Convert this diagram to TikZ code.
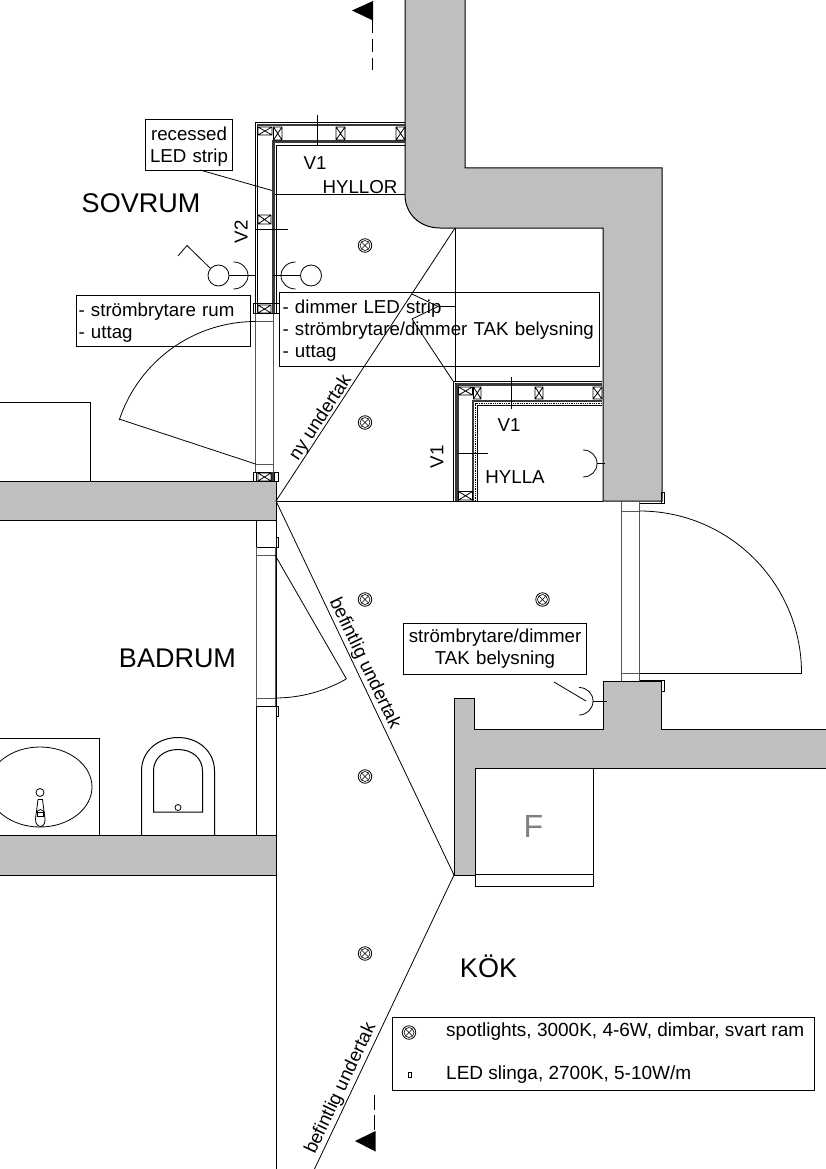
\documentclass[tikz,border=0pt]{standalone}
\usepackage{fontspec}
\setmainfont{Liberation Sans}
\definecolor{wallgray}{HTML}{BFBFBF}
\definecolor{thingray}{HTML}{555555}
\definecolor{bandgray}{HTML}{3A3A3A}
\newcommand{\xbox}[4]{\draw[lw] (#1,#2) rectangle (#3,#4) (#1,#2) -- (#3,#4) (#1,#4) -- (#3,#2);}
\newcommand{\lamp}[3]{\node[lampouter] (#1) at (#2,#3) {}; \draw[line width=.6pt] (#2,#3) circle[radius=5pt]; \draw[line width=.6pt] ($(#2,#3)+(-3.5,-3.5)$) -- ($(#2,#3)+(3.5,3.5)$) ($(#2,#3)+(-3.5,3.5)$) -- ($(#2,#3)+(3.5,-3.5)$);}
\usetikzlibrary{calc}
\tikzset{
  lw/.style={line width=.8pt,black},
  wall/.style={fill=wallgray,draw=black,line width=1pt},
  thin gray/.style={line width=.8pt,draw=thingray},
  band/.style={draw=bandgray},
  lampouter/.style={circle,draw=black,line width=.8pt,minimum size=13.5pt,inner sep=0pt},
  lbl/.style={font=\fontsize{18.7}{22}\selectfont,inner sep=0pt},
  room/.style={font=\fontsize{27}{30}\selectfont,inner sep=0pt},
  tbox/.style={draw=black,fill=white,line width=1pt,font=\fontsize{18.7}{22}\selectfont,inner ysep=2pt,anchor=north west,align=left},
  tboxc/.style={draw=black,fill=white,line width=1pt,font=\fontsize{18.7}{22}\selectfont,inner ysep=2pt,inner xsep=3pt,anchor=north west,align=center},
  oline/.style={line width=.8pt,black},
  marker/.style={fill=black,draw=none},
}
\begin{document}
\begin{tikzpicture}[x=1pt,y=-1pt]
\useasboundingbox (0,0) rectangle (826,1169);
% walls
\path[wall] (465,-3) -- (465,168) -- (662,168) -- (662,501) -- (603,501) -- (603,228) -- (440,228)
  .. controls (420,228) and (405,214) .. (405,195) -- (405,-3) -- cycle;
\path[wall] (-2,481) rectangle (276,520);
\path[wall] (-2,835) rectangle (276,875);
\path[wall] (454,698) -- (474,698) -- (474,729) -- (603,729) -- (603,681) -- (661,681) -- (661,729) -- (828,729) -- (828,768) -- (475,768) -- (475,875) -- (454,875) -- cycle;
\path[fill=wallgray] (476,731) rectangle (660,766);
% closet
\draw[lw,line width=1pt] (475,768) -- (593,768) -- (593,874) -- (475,874) -- cycle;
\draw[lw,line width=1pt] (475,874) rectangle (593,886);
\node[font=\fontsize{32}{34}\selectfont,text=black!50,inner sep=0pt] (fcloset) at (533.5,826) {F};
% section marks
\path[marker] (352,10.5) -- (373,1) -- (373,20.5) -- cycle;
\coordinate (dtopa) at (372.5,20);
\coordinate (dtopb) at (372.5,70);
\draw[line width=1pt,dash pattern=on 13pt off 6pt] (dtopa) -- (dtopb);
\path[marker] (355,1141) -- (375.5,1131) -- (375.5,1151.5) -- cycle;
\coordinate (dbota) at (374.5,1130);
\coordinate (dbotb) at (374.5,1095);
\draw[line width=1pt,dash pattern=on 15pt off 5pt] (dbota) -- (dbotb);
% text boxes that lines run over
\node[tbox,inner xsep=2pt,text width=170pt,minimum height=51pt] (boxrum) at (76,295) {\rule{0pt}{16pt}- strömbrytare rum\\- uttag};
\node[tbox,inner xsep=3pt,text width=314pt,minimum height=74pt] (boxdim) at (279,292) {\rule{0pt}{16pt}- dimmer LED strip\\- strömbrytare/dimmer TAK belysning\\- uttag};
\node[tboxc,text width=177pt,minimum height=51pt] (boxtak) at (403,623) {strömbrytare/dimmer\\TAK belysning};
\node[tboxc,text width=81pt,minimum height=51pt] (boxled) at (145,119) {\rule{0pt}{17.5pt}recessed\\LED strip};
% top-left partition gray lines
\draw[thin gray] (255.5,313) -- (255.5,472) (273.5,313) -- (273.5,472) (255.5,321.5) -- (273.5,321.5) (255.5,464) -- (273.5,464);
% door upper-left
\draw[oline] (255.5,464) -- (119,419);
\draw[oline] (255.5,321.5) arc[start angle=90,end angle=161.8,radius=143.5pt];
% hinge at wall
\draw[lw] (253,472) rectangle (278,481) (256,472) -- (256,481) (274.5,472) -- (274.5,481);
\fill[bandgray] (271,472) rectangle (274,481);
\xbox{258}{473}{271}{481}
% bath partition
\draw[lw,line width=1pt] (256,520) -- (256,547) -- (276,547) (276,520) -- (276,835);
\draw[lw,line width=1pt] (256,835) -- (256,706) -- (276,706);
\draw[thin gray] (256,547) -- (256,706) (275,547) -- (275,706) (256,555) -- (275,555) (256,698) -- (275,698);
\draw[lw] (276,537) rectangle (278.5,547) (276,706) rectangle (278.5,716);
\draw[oline] (275,555) -- (346.5,679);
\draw[oline] (275,698) arc[start angle=270,end angle=299.8,radius=143pt];
% below bath
\draw[lw,line width=1pt] (276,875) -- (276,1169);
% undertak diagonals
\coordinate (cornerA) at (276,501);
\coordinate (cornerB) at (455,228);
\coordinate (cornerC) at (454,875);
\coordinate (cornerD) at (314.5,1169);
\draw[oline] (cornerA) -- (cornerB);
\draw[oline] (cornerA) -- (cornerC);
\draw[oline] (cornerC) -- (cornerD);
\draw[line width=1pt] (cornerA) -- (603,501);
\draw[oline] (cornerB) -- (455,381);
% leader boxdim
\draw[oline] (455,306.5) -- (438,306.5) -- (412,294);
\draw[oline] (438,306.5) -- (412,319) -- (453,381);
% shelf HYLLOR
\draw[lw] (405,122) -- (255,122) -- (255,313) (405,124) -- (257,124) -- (257,313);
\draw[band,line width=2pt] (257,125.5) -- (405,125.5);
\draw[band,line width=3pt] (405,142) -- (273.5,142) -- (273.5,313);
\draw[lw] (405,145.5) -- (276.5,145.5) -- (276.5,313);
\draw[lw] (253,303.5) rectangle (279,313);
\xbox{258}{127}{272}{135}
\xbox{273.5}{127}{282}{140}
\xbox{336}{127}{345}{140}
\xbox{396}{127}{405}{140}
\xbox{258}{215}{271}{224}
\xbox{258}{305}{271}{313}
% sections and shelf line
\draw[oline] (317.5,115) -- (317.5,146);
\draw[oline] (256,229) -- (288,229);
\draw[oline] (275,194) -- (405,194);
\draw[oline] (200,170) -- (272,190.5);
\node[lbl] (v1a) at (315,163) {V1};
\node[lbl,rotate=90] (v2) at (241,232) {V2};
\node[lbl] (hyllor) at (360,187) {HYLLOR};
% shelf HYLLA
\draw[lw] (602,381) -- (453,381) -- (453,501) (602,383) -- (455,383) -- (455,501);
\draw[band,line width=2.5pt] (456,384.5) -- (602,384.5);
\draw[band,line width=3.5pt] (457,384) -- (457,501);
\draw[band,line width=2.5pt] (602,401) -- (473,401) -- (473,501);
\draw[lw,densely dotted,line width=.7pt] (602,403.5) -- (475.5,403.5) -- (475.5,501);
\draw[lw] (602,405) -- (477.5,405) -- (477.5,501);
\xbox{458.5}{387}{472.5}{395}
\xbox{473.5}{387}{481}{399}
\xbox{535}{387}{543}{399}
\xbox{593}{387}{602}{399}
\xbox{458.5}{491.5}{472.5}{500}
\draw[oline] (511.5,377) -- (511.5,409);
\draw[oline] (457,453.5) -- (488,453.5);
\node[lbl] (v1b) at (509,425) {V1};
\node[lbl,rotate=90] (v1c) at (437,457) {V1};
\node[lbl] (hylla) at (515,477) {HYLLA};
% outlets in bedroom
\node[circle,draw=black,line width=.8pt,minimum size=21pt,inner sep=0pt] (outl) at (218.5,275.5) {};
\node[circle,draw=black,line width=.8pt,minimum size=21pt,inner sep=0pt] (outr) at (311,275.5) {};
\draw[oline] (outl) -- (255,275.5);
\draw[oline] (outr) -- (273,275.5);
\draw[oline] (233.5,262) .. controls (241.5,262) and (248,268) .. (248,275.5) .. controls (248,283) and (241.5,289) .. (233.5,289);
\draw[oline] (295.5,262) .. controls (287.5,262) and (281,268) .. (281,275.5) .. controls (281,283) and (287.5,289) .. (295.5,289);
\draw[oline] (210,268) -- (187,245.5) -- (178,256);
% outlet HYLLA
\draw[oline] (583,450) .. controls (591,450) and (597,456) .. (597,463.5) .. controls (597,471) and (591,477) .. (583,477);
\draw[oline] (597,463.5) -- (605,463.5);
% outlet kitchen
\draw[oline] (579,687.5) .. controls (587,687.5) and (593,693.5) .. (593,701) .. controls (593,708.5) and (587,715) .. (579,715);
\draw[oline] (593,701) -- (607,701);
\draw[oline] (554,682) -- (586,701);
% right door
\draw[thin gray] (621.5,501) -- (621.5,681) (639.5,501) -- (639.5,681) (621.5,511.5) -- (639.5,511.5) (621.5,673) -- (639.5,673);
\draw[lw] (639.5,503.5) -- (661,503.5);
\draw[lw] (661.5,492) rectangle (664,503.5);
\draw[lw] (639.5,680) -- (661,680) (661.5,680.5) rectangle (664,691);
\draw[oline] (639.5,511) arc[start angle=90,end angle=0,radius=162pt];
\draw[oline] (639.5,673) -- (802,673);
% left bedroom box
\draw[lw,line width=1pt] (-2,402.5) -- (90.5,402.5) -- (90.5,481);
% sink
\draw[lw,line width=1pt] (-2,738) -- (99.5,738) -- (99.5,835);
\begin{scope}
\clip (0,730) rectangle (110,835);
\draw[oline] (40,787) ellipse[x radius=52pt,y radius=40pt];
\end{scope}
\draw[oline] (40,792.5) circle[radius=4pt];
\draw[oline] (38,799.5) -- (42.5,799.5) -- (45,819) .. controls (45.5,829) and (35.5,829) .. (35.5,819) -- cycle;
\draw[oline] (36.5,813) .. controls (38,808.5) and (43,808.5) .. (44.5,813);
\draw[lw] (37.5,812) rectangle (43.5,816.5);
% toilet
\draw[oline,line width=1pt] (141.5,835) -- (141.5,771) .. controls (141.5,751) and (158,737.5) .. (178,737.5) .. controls (198,737.5) and (214.5,751) .. (214.5,771) -- (214.5,835);
\draw[oline,line width=1pt] (153.5,812) -- (153.5,771) .. controls (153.5,758) and (164,749.5) .. (178,749.5) .. controls (192,749.5) and (202.5,758) .. (202.5,771) -- (202.5,812) -- cycle;
\draw[oline] (178,807.5) circle[radius=3pt];
% lamps
\lamp{la}{365}{245.5}
\lamp{lb}{365}{422.5}
\lamp{lc}{365}{599.5}
\lamp{ld}{542.5}{599.5}
\lamp{le}{365}{776.5}
\lamp{lf}{365}{953.5}
% rooms
\node[room] (sovrum) at (141,203) {SOVRUM};
\node[room] (badrum) at (177.5,658.5) {BADRUM};
\node[room] (kok) at (488.5,966) {KÖK};
% rotated labels
\node[lbl,rotate=56.7] (nyund) at (321,418) {ny undertak};
\node[lbl,rotate=-64.5] (befa) at (364.5,663.5) {befintlig undertak};
\node[lbl,rotate=64.6] (befb) at (341,1088.5) {befintlig undertak};
% legend
\node[draw=black,fill=white,line width=1pt,minimum width=422pt,minimum height=73pt,inner sep=0pt,anchor=north west] (legend) at (392,1017) {};
\lamp{ll}{409}{1032.5}
\node[draw=black,line width=.8pt,inner sep=0pt,minimum width=3pt,minimum height=5.5pt] (lled) at (409.5,1075) {};
\node[lbl,anchor=west,font=\fontsize{19}{22}\selectfont] (lta) at (446,1032) {spotlights, 3000K, 4-6W, dimbar, svart ram};
\node[lbl,anchor=west,font=\fontsize{19}{22}\selectfont] (ltb) at (446,1075) {LED slinga, 2700K, 5-10W/m};
\end{tikzpicture}
\end{document}
